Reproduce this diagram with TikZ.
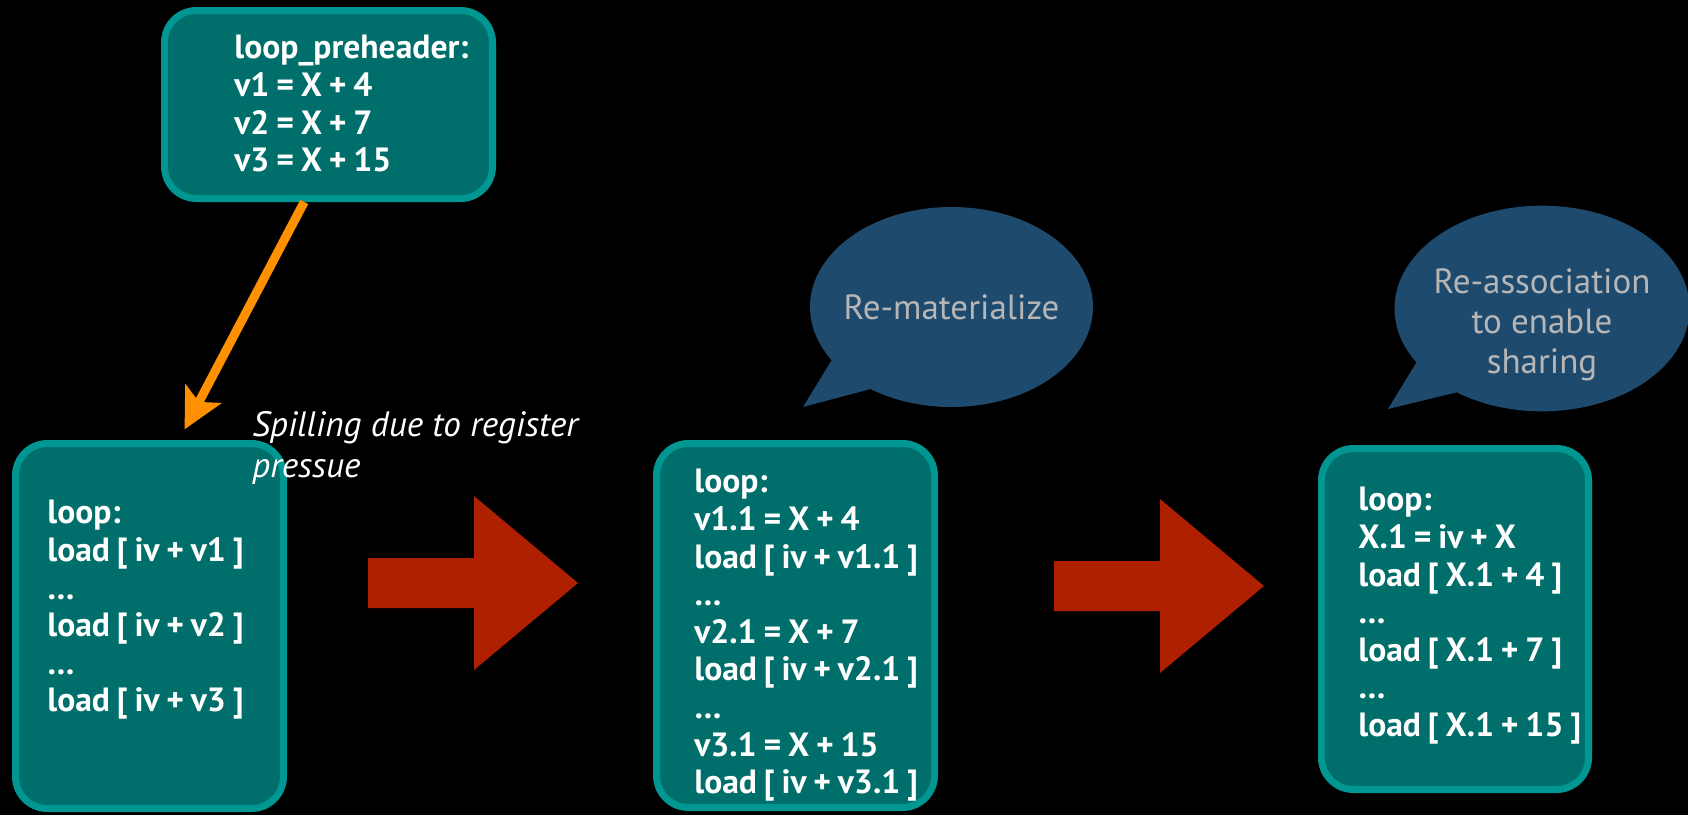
\documentclass[tikz,border=0pt]{standalone}
\usepackage{fontspec}
\setmainfont{PT Sans}
\newfontfamily\codefont{PT Sans}[WordSpace=0.8]
\usetikzlibrary{arrows.meta,shapes.callouts}
\definecolor{boxfill}{RGB}{0,110,107}
\definecolor{boxline}{RGB}{0,150,145}
\definecolor{bubblefill}{RGB}{30,74,110}
\definecolor{bubbletext}{RGB}{182,182,182}
\definecolor{spillorange}{RGB}{255,145,0}
\definecolor{bigred}{RGB}{174,32,0}
\def\redarrow#1#2{\fill[bigred] (#1,#2) ++(0,-25) -- ++(106,0) -- ++(0,-62) -- ++(104,87) -- ++(-104,87) -- ++(0,-62) -- ++(-106,0) -- cycle;}

\begin{document}
\begin{tikzpicture}[x=0.5pt,y=-0.5pt,
    block/.style={draw=boxline,fill=boxfill,line width=3.5pt,rounded corners=16pt,inner sep=0pt},
    code/.style={anchor=north west,align=left,inner sep=0pt,text=white,font=\codefont\fontsize{16.8}{18.8}\selectfont\bfseries},
    bubble/.style={ellipse callout,fill=bubblefill,text=bubbletext,inner xsep=-10pt,inner ysep=0pt,callout pointer arc=23,font=\fontsize{17.5}{20}\selectfont},
    spill/.style={draw=spillorange,line width=4.5pt,-{Stealth[length=20pt,width=20pt,inset=4.5pt]},shorten >=6pt}]

    \useasboundingbox (0,0) rectangle (1688,815);
    \clip (0,0) rectangle (1688,815);
    \fill[black] (0,0) rectangle (1688,815);

    \node[block,minimum width=164pt,minimum height=94pt] (PRE) at (328.5,104.5) {};
    \node[block,minimum width=134pt,minimum height=182.5pt] (LA) at (149.5,626) {};
    \node[block,minimum width=139pt,minimum height=182pt] (LB) at (795.5,625.5) {};
    \node[block,minimum width=133.5pt,minimum height=170.5pt] (LC) at (1455,619) {};

    \node[code] (PRET) at (234,35) {loop\_preheader:\\v1 = X + 4\\v2 = X + 7\\v3 = X + 15};
    \node[code] (LAT) at (47,500) {loop:\\load [ iv + v1 ]\\…\\load [ iv + v2 ]\\…\\load [ iv + v3 ]};
    \node[code] (LBT) at (694,469) {loop:\\v1.1 = X + 4\\load [ iv + v1.1 ]\\…\\v2.1 = X + 7\\load [ iv + v2.1 ]\\…\\v3.1 = X + 15\\load [ iv + v3.1 ]};
    \node[code] (LCT) at (1358,487) {loop:\\X.1 = iv + X\\load [ X.1 + 4 ]\\…\\load [ X.1 + 7 ]\\…\\load [ X.1 + 15 ]};

    \draw[spill] (PRE.256) to (LA.81);
    \node[anchor=north west,align=left,inner sep=0pt,text=white,font=\fontsize{17.6}{20.5}\selectfont\itshape] (SP) at (252,411) {Spilling due to register\\pressue};

    \redarrow{368}{583}
    \redarrow{1054}{586}

    \node[bubble,minimum width=141.5pt,minimum height=100pt,callout absolute pointer={(803,407)}] (RM) at (951.5,307) {Re-materialize};
    \node[bubble,align=center,minimum width=147.5pt,minimum height=100.5pt,callout absolute pointer={(1388,409)}] (RA) at (1542,308.5) {\rule{0pt}{29pt}Re-association\\to enable\\sharing};

\end{tikzpicture}
\end{document}
